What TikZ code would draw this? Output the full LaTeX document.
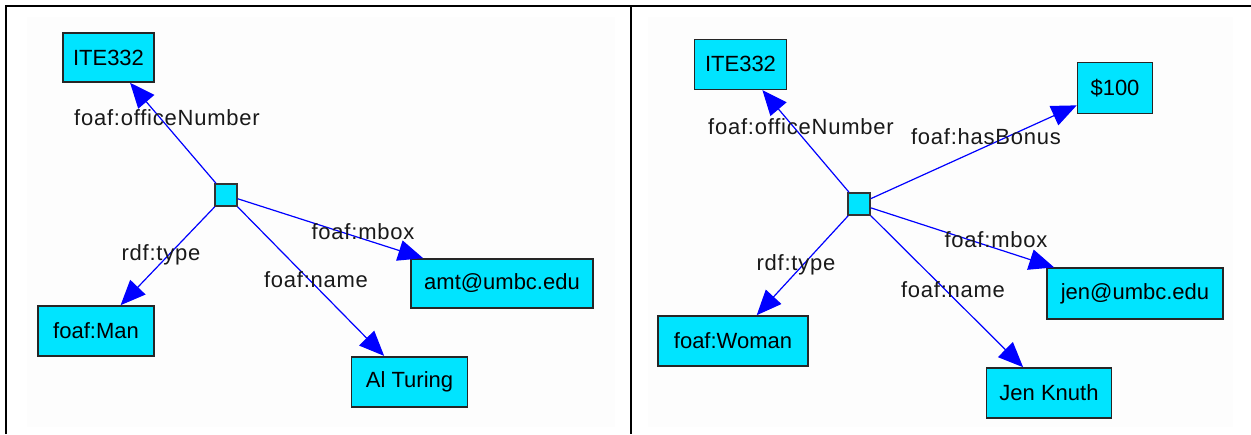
\documentclass[tikz,border=0pt]{standalone}
\usepackage{fontspec}
\setmainfont{Liberation Sans}
\newfontfamily\lblfont[LetterSpace=3.5]{Liberation Sans}
\usetikzlibrary{arrows.meta}
\definecolor{boxcyan}{RGB}{0,228,255}
\definecolor{bglight}{RGB}{253,253,253}
\definecolor{edgeblue}{RGB}{0,0,255}
\begin{document}
\begin{tikzpicture}[x=1pt,y=-1pt,
  valbox/.style={rectangle,draw=black!85,line width=1.6pt,fill=boxcyan,inner sep=0pt,
    font=\fontsize{22}{26}\selectfont,text=black},
  hub/.style={rectangle,draw=black!80,line width=1.6pt,fill=boxcyan,inner sep=0pt,
    minimum width=22pt,minimum height=22pt},
  rel/.style={draw=edgeblue,line width=1.2pt,-{Triangle[length=25pt,width=21pt]}},
  lbl/.style={inner sep=0pt,font=\lblfont\fontsize{22}{26}\selectfont,text=black!90}]
\useasboundingbox (0,0) rectangle (1251,434);
% panels
\fill[white] (0,0) rectangle (1251,434);
\fill[bglight] (27,17) rectangle (615,427);
\fill[bglight] (648,17) rectangle (1233,427);
\draw[line width=2pt] (6.3,434) -- (6.3,6.3) -- (1251,6.3);
\draw[line width=2pt] (630.5,6.3) -- (630.5,434);
% left graph
\node[hub] (c1) at (226,195) {};
\node[valbox,minimum width=91pt,minimum height=49pt] (ite1) at (108.5,57.5) {ITE332};
\node[valbox,minimum width=116pt,minimum height=50pt] (man) at (96,331) {foaf:Man};
\node[valbox,minimum width=182pt,minimum height=49pt] (amt) at (502,283.5) {amt@umbc.edu};
\node[valbox,minimum width=116pt,minimum height=50pt] (al) at (409.5,381.7) {Al Turing};
\draw[rel] (c1) -- (ite1);
\draw[rel] (c1) -- (man);
\draw[rel] (c1) -- (amt);
\draw[rel] (c1) -- (al);
\node[lbl] (l1a) at (167,118) {foaf:officeNumber};
\node[lbl] (l1b) at (161,255) {rdf:type};
\node[lbl] (l1c) at (316,280) {foaf:name};
\node[lbl] (l1d) at (363,232) {foaf:mbox};
% right graph
\node[hub] (c2) at (859,204) {};
\node[valbox,minimum width=92pt,minimum height=50pt] (ite2) at (740.5,64.3) {ITE332};
\node[valbox,minimum width=75pt,minimum height=51pt] (bonus) at (1115,88) {\$100};
\node[valbox,minimum width=150pt,minimum height=50pt] (woman) at (733,341) {foaf:Woman};
\node[valbox,minimum width=176pt,minimum height=51pt] (jen) at (1135,293.7) {jen@umbc.edu};
\node[valbox,minimum width=125pt,minimum height=50pt] (knuth) at (1049,393) {Jen Knuth};
\draw[rel] (c2) -- (ite2);
\draw[rel] (c2) -- (bonus);
\draw[rel] (c2) -- (woman);
\draw[rel] (c2) -- (jen);
\draw[rel] (c2) -- (knuth);
\node[lbl] (l2a) at (801,127) {foaf:officeNumber};
\node[lbl] (l2b) at (986,137) {foaf:hasBonus};
\node[lbl] (l2c) at (996,240) {foaf:mbox};
\node[lbl] (l2d) at (796,265) {rdf:type};
\node[lbl] (l2e) at (953,290) {foaf:name};
\end{tikzpicture}
\end{document}
